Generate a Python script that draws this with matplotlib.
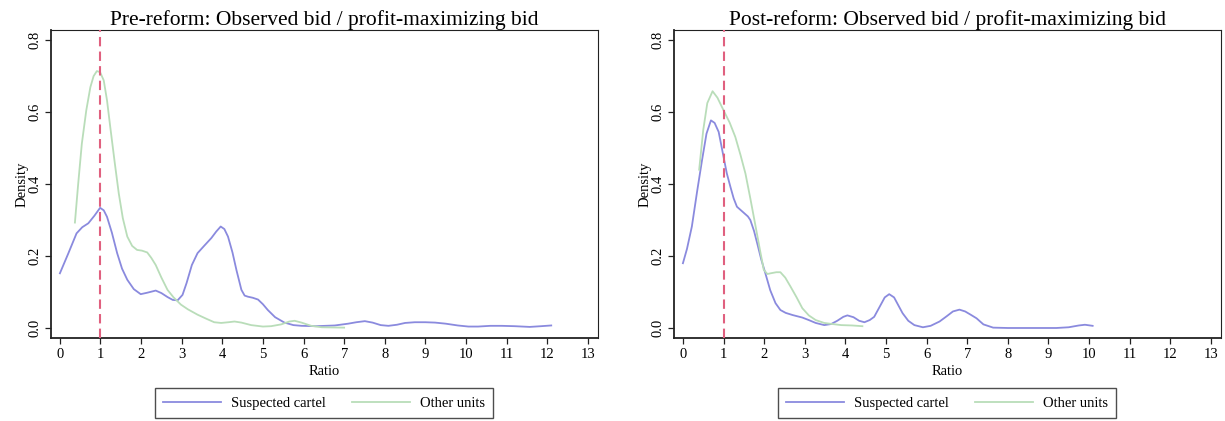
import matplotlib
matplotlib.use("Agg")
import matplotlib.pyplot as plt

plt.rcParams["font.family"] = ["Liberation Serif", "DejaVu Serif"]

# Kernel density estimates of observed bid / profit-maximizing bid
pre_cartel_x = [0.00, 0.21, 0.41, 0.55, 0.70, 0.85, 0.99, 1.08, 1.16, 1.28, 1.41, 1.53, 1.66, 1.82,
                1.99, 2.15, 2.36, 2.50, 2.65, 2.78, 2.90, 3.02, 3.12, 3.25, 3.39, 3.55, 3.73, 3.85,
                3.96, 4.05, 4.14, 4.25, 4.35, 4.47, 4.55, 4.63, 4.75, 4.88, 5.00, 5.12, 5.30, 5.53,
                5.75, 5.95, 6.30, 6.77, 7.10, 7.30, 7.51, 7.70, 7.90, 8.09, 8.30, 8.50, 8.74, 9.00,
                9.24, 9.50, 9.80, 10.06, 10.30, 10.60, 10.88, 11.20, 11.57, 11.85, 12.10]
pre_cartel_y = [0.152, 0.208, 0.263, 0.280, 0.291, 0.312, 0.334, 0.327, 0.309, 0.265, 0.208, 0.165,
                0.134, 0.108, 0.094, 0.098, 0.104, 0.097, 0.086, 0.078, 0.077, 0.092, 0.125, 0.175,
                0.208, 0.228, 0.250, 0.268, 0.282, 0.275, 0.254, 0.210, 0.160, 0.106, 0.090, 0.087,
                0.084, 0.079, 0.066, 0.050, 0.030, 0.015, 0.008, 0.006, 0.005, 0.007, 0.012, 0.016,
                0.019, 0.015, 0.008, 0.006, 0.009, 0.014, 0.016, 0.016, 0.015, 0.012, 0.007, 0.004,
                0.004, 0.006, 0.006, 0.005, 0.003, 0.005, 0.007]

pre_other_x = [0.37, 0.45, 0.54, 0.65, 0.75, 0.83, 0.91, 0.99, 1.08, 1.16, 1.24, 1.35, 1.45, 1.55,
               1.66, 1.78, 1.90, 2.02, 2.15, 2.25, 2.36, 2.50, 2.65, 2.80, 2.98, 3.15, 3.39, 3.60,
               3.80, 3.97, 4.15, 4.30, 4.47, 4.71, 5.00, 5.20, 5.45, 5.65, 5.78, 5.95, 6.19, 6.45,
               7.00]
pre_other_y = [0.293, 0.400, 0.512, 0.605, 0.669, 0.700, 0.714, 0.711, 0.688, 0.633, 0.559, 0.460,
               0.374, 0.305, 0.254, 0.228, 0.217, 0.215, 0.210, 0.195, 0.175, 0.140, 0.106, 0.085,
               0.065, 0.052, 0.037, 0.026, 0.016, 0.014, 0.016, 0.018, 0.015, 0.008, 0.004, 0.005,
               0.010, 0.018, 0.020, 0.015, 0.006, 0.002, 0.001]

post_cartel_x = [0.00, 0.10, 0.22, 0.35, 0.47, 0.58, 0.69, 0.78, 0.88, 1.00, 1.08, 1.17, 1.25, 1.33,
                 1.50, 1.60, 1.66, 1.75, 1.83, 1.93, 2.03, 2.15, 2.28, 2.40, 2.53, 2.70, 2.94, 3.10,
                 3.27, 3.48, 3.65, 3.80, 3.95, 4.05, 4.20, 4.34, 4.47, 4.60, 4.71, 4.85, 4.97, 5.08,
                 5.20, 5.30, 5.41, 5.55, 5.70, 5.91, 6.10, 6.32, 6.50, 6.65, 6.81, 6.95, 7.10, 7.23,
                 7.40, 7.64, 8.00, 9.20, 9.50, 9.75, 9.90, 10.09]
post_cartel_y = [0.180, 0.220, 0.282, 0.380, 0.466, 0.540, 0.577, 0.570, 0.545, 0.476, 0.430, 0.392,
                 0.360, 0.337, 0.320, 0.310, 0.300, 0.270, 0.235, 0.190, 0.152, 0.105, 0.069, 0.050,
                 0.042, 0.036, 0.029, 0.022, 0.014, 0.008, 0.011, 0.020, 0.031, 0.035, 0.030, 0.020,
                 0.016, 0.022, 0.031, 0.060, 0.085, 0.094, 0.085, 0.064, 0.041, 0.020, 0.008, 0.002,
                 0.006, 0.018, 0.033, 0.046, 0.051, 0.046, 0.036, 0.027, 0.010, 0.001, 0.000, 0.000,
                 0.002, 0.007, 0.009, 0.006]

post_other_x = [0.40, 0.50, 0.60, 0.73, 0.85, 1.00, 1.15, 1.29, 1.42, 1.54, 1.66, 1.79, 1.90, 1.99,
                2.08, 2.16, 2.30, 2.40, 2.52, 2.65, 2.80, 2.94, 3.10, 3.27, 3.48, 3.68, 3.90, 4.17,
                4.42]
post_other_y = [0.440, 0.550, 0.625, 0.658, 0.640, 0.605, 0.571, 0.531, 0.480, 0.429, 0.360, 0.282,
                0.215, 0.162, 0.150, 0.152, 0.155, 0.155, 0.140, 0.115, 0.085, 0.055, 0.035, 0.022,
                0.014, 0.011, 0.008, 0.007, 0.005]

x_ticks = list(range(0, 14))
y_ticks = [0.0, 0.2, 0.4, 0.6, 0.8]
reference_ratio = 1.0

titles = ["Pre-reform: Observed bid / profit-maximizing bid",
          "Post-reform: Observed bid / profit-maximizing bid"]
series_labels = ["Suspected cartel", "Other units"]

CARTEL_COLOR = "#8a8ade"
OTHER_COLOR = "#b9ddb9"
REF_COLOR = "#e0607f"

fig = plt.figure(figsize=(12.25, 4.21), dpi=100)
panels = [
    (fig.add_axes([0.0416, 0.197, 0.4465, 0.7316]),
     (pre_cartel_x, pre_cartel_y), (pre_other_x, pre_other_y), titles[0]),
    (fig.add_axes([0.5502, 0.197, 0.4465, 0.7316]),
     (post_cartel_x, post_cartel_y), (post_other_x, post_other_y), titles[1]),
]

for ax, cartel, other, title in panels:
    l1, = ax.plot(cartel[0], cartel[1], color=CARTEL_COLOR, lw=1.3, label=series_labels[0],
                  solid_joinstyle="round")
    l2, = ax.plot(other[0], other[1], color=OTHER_COLOR, lw=1.3, label=series_labels[1],
                  solid_joinstyle="round")
    ax.axvline(reference_ratio, color=REF_COLOR, lw=1.5, ls=(0, (4.5, 2.5)), zorder=3)

    ax.set_xlim(-0.22, 13.25)
    ax.set_ylim(-0.028, 0.828)
    ax.set_xticks(x_ticks)
    ax.set_xticklabels([str(t) for t in x_ticks], fontsize=10.5)
    ax.set_yticks(y_ticks)
    ax.set_yticklabels([f"{t:.1f}" for t in y_ticks], fontsize=10.5, rotation=90, va="center")
    ax.tick_params(direction="out", length=4, width=0.9, color="#222222", pad=3)
    for s in ax.spines.values():
        s.set_linewidth(0.8)
        s.set_color("#222222")
    ax.spines["left"].set_linewidth(1.3)
    ax.spines["bottom"].set_linewidth(1.3)

    ax.set_xlabel("Ratio", fontsize=10.5, labelpad=3)
    ax.set_ylabel("Density", fontsize=10.5, labelpad=0)
    ax.set_title(title, fontsize=15.5, pad=3)

    leg = ax.legend(handles=[l1, l2], loc="center", bbox_to_anchor=(0.499, -0.211),
                    ncol=2, frameon=True, fancybox=False, fontsize=10.5,
                    handlelength=4.0, columnspacing=1.8, handletextpad=0.65,
                    borderpad=0.55, borderaxespad=0)
    leg.get_frame().set_edgecolor("#222222")
    leg.get_frame().set_linewidth(1.0)

fig.savefig("out.png", dpi=100)
